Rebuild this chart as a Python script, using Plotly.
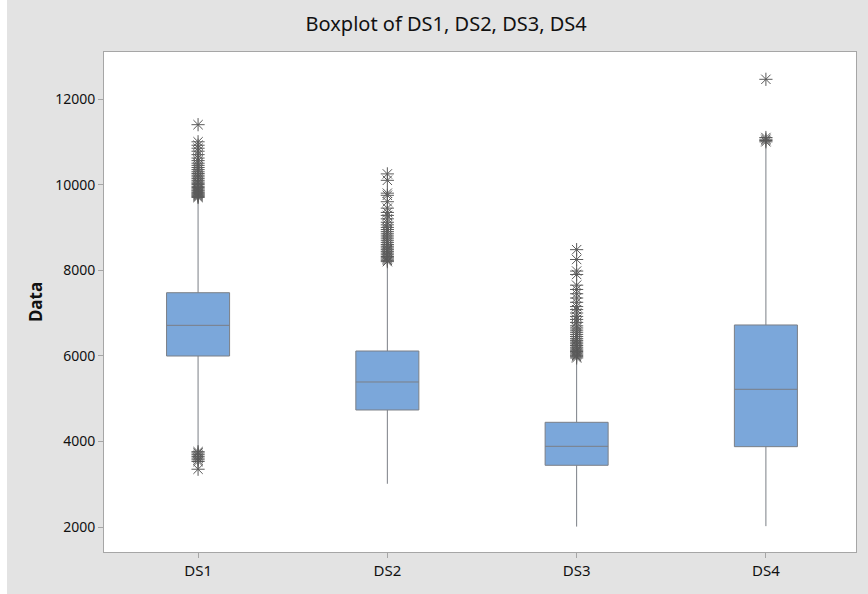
import plotly.graph_objects as go

categories = ["DS1", "DS2", "DS3", "DS4"]
q1 = [5995, 4734, 3442, 3877]
median = [6712, 5388, 3885, 5217]
q3 = [7474, 6112, 4446, 6720]
lowerfence = [3790, 3010, 2010, 2020]
upperfence = [9690, 8180, 5940, 10890]

ds1_outliers = [3350, 3530, 3570, 3610, 3650, 3690, 3730, 3760,
                9700, 9720, 9740, 9760, 9780, 9800, 9820, 9850, 9870, 9900, 9930, 9960,
                10000, 10030, 10060, 10100, 10140, 10180, 10220, 10260, 10300, 10350,
                10400, 10450, 10500, 10560, 10620, 10700, 10780, 10850, 10920, 11000, 11400]
ds2_outliers = [8200, 8230, 8260, 8290, 8320, 8360, 8400, 8440, 8480, 8520, 8560, 8600,
                8650, 8700, 8750, 8800, 8850, 8900, 8950, 9000, 9060, 9120, 9200, 9280,
                9350, 9450, 9600, 9750, 9800, 10100, 10250]
ds3_outliers = [5950, 5980, 6010, 6040, 6070, 6100, 6130, 6160, 6200, 6240, 6280, 6320,
                6360, 6400, 6450, 6500, 6550, 6600, 6650, 6700, 6780, 6850, 6920, 7000,
                7080, 7150, 7250, 7350, 7450, 7550, 7650, 7900, 7980, 8250, 8480]
ds4_outliers = [11000, 11030, 11060, 11100, 12460]

y_ticks = [2000, 4000, 6000, 8000, 10000, 12000]
y_tick_labels = ["2000", "4000", "6000", "8000", "10000", "12000"]

FONT = "Noto Sans"

fig = go.Figure()
fig.add_trace(go.Box(
    x=categories, q1=q1, median=median, q3=q3,
    lowerfence=lowerfence, upperfence=upperfence,
    width=0.333, boxpoints=False,
    fillcolor="#7ba7da", line=dict(color="#7b7f86", width=1),
    whiskerwidth=0, showlegend=False, hoverinfo="y",
))

out_x, out_y = [], []
for cat, vals in zip(categories, [ds1_outliers, ds2_outliers, ds3_outliers, ds4_outliers]):
    out_x += [cat] * len(vals)
    out_y += vals
fig.add_trace(go.Scatter(
    x=out_x, y=out_y, mode="markers", showlegend=False,
    marker=dict(symbol="asterisk-open", size=11, color="#5a5a5a",
                line=dict(color="#5a5a5a", width=1)),
))

fig.update_layout(
    width=868, height=594,
    margin=dict(l=104, r=12, t=52, b=42),
    paper_bgcolor="#e3e3e3", plot_bgcolor="white",
    font=dict(family=FONT, color="#111111", size=14),
    title=dict(text="Boxplot of DS1, DS2, DS3, DS4", x=0.514, xanchor="center",
               y=0.96, yanchor="middle", font=dict(size=20, family=FONT, color="#111111")),
    shapes=[dict(type="rect", xref="paper", yref="paper", x0=-0.2, x1=(7 - 104) / 752,
                 y0=-0.2, y1=1.2, fillcolor="white", line=dict(width=0), layer="below")],
)
fig.update_xaxes(
    type="category", range=[-0.497, 3.476], showgrid=False,
    showline=True, linecolor="#a6a6a6", linewidth=1, mirror=True,
    ticks="outside", ticklen=5, tickcolor="#a6a6a6",
    tickfont=dict(size=15, color="#111111"),
)
fig.update_yaxes(
    range=[1416, 13098], tickvals=y_ticks, ticktext=y_tick_labels,
    showgrid=False, zeroline=False,
    showline=True, linecolor="#a6a6a6", linewidth=1, mirror=True,
    ticks="outside", ticklen=5, tickcolor="#a6a6a6",
    tickfont=dict(size=14, color="#111111"),
    title=dict(text="<b>Data</b>", font=dict(size=17, color="#111111"), standoff=8),
)

fig.write_html("out.html")
